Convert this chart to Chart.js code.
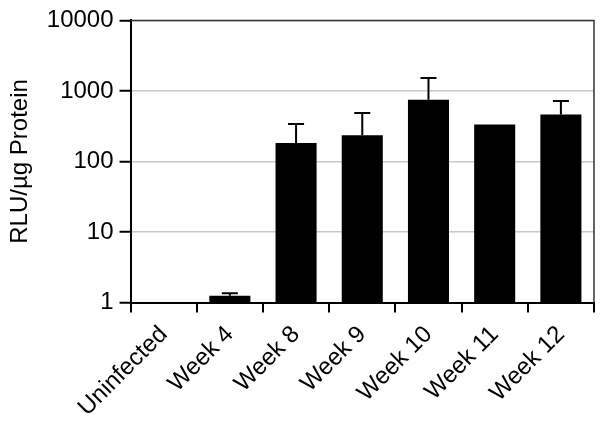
<!DOCTYPE html>
<html>
<head>
<meta charset="utf-8">
<script src="https://cdn.jsdelivr.net/npm/chart.js@4"></script>
<style>
  html, body { margin: 0; padding: 0; background: #fff; }
  #wrap { width: 604px; height: 430px; }
</style>
</head>
<body>
<div id="wrap"><canvas id="rluChart"></canvas></div>
<script>
/* datos */
const categories = ["Uninfected", "Week 4", "Week 8", "Week 9", "Week 10", "Week 11", "Week 12"];
const rluValues = [1, 1.25, 183, 236, 750, 333, 464];
const errorTops = [null, 1.35, 340, 485, 1520, null, 720];
const yTicks = [1, 10, 100, 1000, 10000];

const fontFamily = "'Liberation Sans', Arial, Helvetica, sans-serif";

/* barras de error (solo hacia arriba) + marco superior/derecho */
const errorBarsPlugin = {
  id: "errorBars",
  afterDatasetsDraw(chart) {
    const ctx = chart.ctx;
    const meta = chart.getDatasetMeta(0);
    const yScale = chart.scales.y;
    const area = chart.chartArea;

    ctx.save();
    ctx.strokeStyle = "#000";
    ctx.lineWidth = 2;
    meta.data.forEach((bar, i) => {
      if (errorTops[i] == null) return;
      const yTop = yScale.getPixelForValue(errorTops[i]);
      const yBar = yScale.getPixelForValue(rluValues[i]);
      ctx.beginPath();
      ctx.moveTo(bar.x, yBar);
      ctx.lineTo(bar.x, yTop);
      ctx.moveTo(bar.x - 8, yTop);
      ctx.lineTo(bar.x + 8, yTop);
      ctx.stroke();
    });

    // marco
    ctx.strokeStyle = "#333";
    ctx.lineWidth = 1.5;
    ctx.beginPath();
    ctx.moveTo(area.left, area.top);
    ctx.lineTo(area.right, area.top);
    ctx.lineTo(area.right, area.bottom);
    ctx.stroke();
    ctx.restore();
  }
};

const config = {
  type: "bar",
  data: {
    labels: categories,
    datasets: [{
      data: rluValues,
      backgroundColor: "#000",
      borderWidth: 0,
      barPercentage: 0.62,
      categoryPercentage: 1
    }]
  },
  options: {
    responsive: true,
    maintainAspectRatio: false,
    animation: false,
    layout: { padding: { top: 4, right: 10, left: 6, bottom: 0 } },
    plugins: {
      legend: { display: false },
      tooltip: { enabled: false }
    },
    scales: {
      x: {
        offset: true,
        grid: {
          offset: true,
          drawOnChartArea: false,
          color: "#000",
          tickColor: "#000",
          tickLength: 10,
          lineWidth: 2
        },
        border: { color: "#000", width: 2 },
        ticks: {
          color: "#000",
          font: { family: fontFamily, size: 24 },
          minRotation: 45,
          maxRotation: 45,
          padding: 8
        }
      },
      y: {
        type: "logarithmic",
        min: 1,
        max: 10000,
        afterBuildTicks: (scale) => {
          scale.ticks = yTicks.map(v => ({ value: v }));
        },
        grid: {
          color: "#c8c8c8",
          lineWidth: 1.5,
          tickColor: "#000",
          tickLength: 11,
          tickWidth: 2
        },
        border: { color: "#000", width: 2 },
        ticks: {
          color: "#000",
          font: { family: fontFamily, size: 24 },
          padding: 6,
          callback: (value) => String(value)
        },
        title: {
          display: true,
          text: "RLU/µg Protein",
          color: "#000",
          font: { family: fontFamily, size: 24 },
          padding: { top: 0, bottom: 6 }
        }
      }
    }
  },
  plugins: [errorBarsPlugin]
};

new Chart(document.getElementById("rluChart"), config);
</script>
</body>
</html>
